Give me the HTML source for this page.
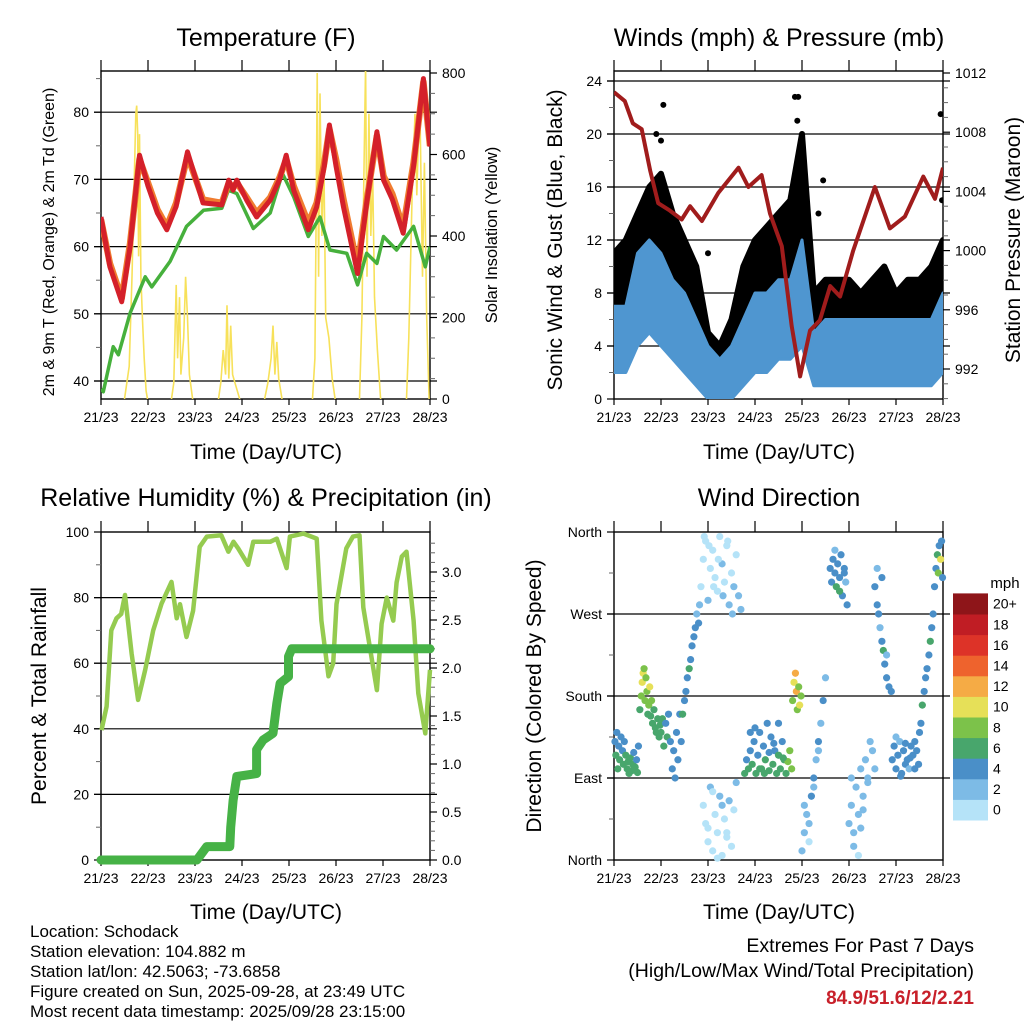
<!DOCTYPE html>
<html><head><meta charset="utf-8"><style>
html,body{margin:0;padding:0;background:#fff;}
svg{display:block;font-family:"Liberation Sans",sans-serif;}
</style></head><body>
<svg id="chart" width="1024" height="1024" viewBox="0 0 1024 1024" xmlns="http://www.w3.org/2000/svg">
<defs>
<clipPath id="c1"><rect x="101" y="71" width="329" height="328"/></clipPath>
<clipPath id="c2"><rect x="614" y="71" width="329" height="328"/></clipPath>
<clipPath id="c3"><rect x="95" y="520" width="345" height="346"/></clipPath>
<clipPath id="c4"><rect x="608" y="528" width="340" height="336"/></clipPath>
</defs>
<rect x="0" y="0" width="1024" height="1024" fill="#fff"/>
<text x="266" y="46" font-size="25" text-anchor="middle">Temperature (F)</text>
<text x="779" y="46" font-size="25" text-anchor="middle">Winds (mph) &amp; Pressure (mb)</text>
<text x="266" y="506" font-size="25" text-anchor="middle">Relative Humidity (%) &amp; Precipitation (in)</text>
<text x="779" y="506" font-size="25" text-anchor="middle">Wind Direction</text>
<text transform="translate(54,242) rotate(-90)" font-size="16" text-anchor="middle">2m &amp; 9m T (Red, Orange) &amp; 2m Td (Green)</text>
<text transform="translate(497,235) rotate(-90)" font-size="16.5" text-anchor="middle">Solar Insolation (Yellow)</text>
<text transform="translate(562,240) rotate(-90)" font-size="21" text-anchor="middle">Sonic Wind &amp; Gust (Blue, Black)</text>
<text transform="translate(1020,240) rotate(-90)" font-size="21" text-anchor="middle">Station Pressure (Maroon)</text>
<text transform="translate(46,696) rotate(-90)" font-size="21" text-anchor="middle">Percent &amp; Total Rainfall</text>
<text transform="translate(541,696) rotate(-90)" font-size="21" text-anchor="middle">Direction (Colored By Speed)</text>
<text x="266" y="459" font-size="21" text-anchor="middle">Time (Day/UTC)</text>
<text x="779" y="459" font-size="21" text-anchor="middle">Time (Day/UTC)</text>
<text x="266" y="919" font-size="21" text-anchor="middle">Time (Day/UTC)</text>
<text x="779" y="919" font-size="21" text-anchor="middle">Time (Day/UTC)</text>
<g font-size="17">
<text x="30" y="937">Location: Schodack</text>
<text x="30" y="957">Station elevation: 104.882 m</text>
<text x="30" y="977">Station lat/lon: 42.5063; -73.6858</text>
<text x="30" y="997">Figure created on Sun, 2025-09-28, at 23:49 UTC</text>
<text x="30" y="1017">Most recent data timestamp: 2025/09/28 23:15:00</text>
</g>
<text x="974" y="952" font-size="19.5" text-anchor="end">Extremes For Past 7 Days</text>
<text x="974" y="977" font-size="19.5" text-anchor="end">(High/Low/Max Wind/Total Precipitation)</text>
<text x="974" y="1004" font-size="19" font-weight="bold" fill="#c8202a" text-anchor="end">84.9/51.6/12/2.21</text>
<text x="1005" y="588" font-size="15" text-anchor="middle">mph</text>
</svg>
<script>
// ---------- DATA ----------
const dayLabels = ["21/23","22/23","23/23","24/23","25/23","26/23","27/23","28/23"];
const tempTimes = [0,0.19,0.44,0.62,0.82,1.0,1.2,1.4,1.6,1.84,2.17,2.57,2.72,2.81,2.89,3.1,3.31,3.6,3.8,3.94,4.1,4.41,4.59,4.75,4.86,5.0,5.16,5.46,5.65,5.87,6.01,6.2,6.43,6.65,6.86,7.0];
const temp2m = [64.4,57,51.8,60,73.6,69,65,62.5,66,74.1,66.5,66.2,69.9,68.4,69.9,66.9,64.4,66.9,70,73.6,68.4,62.5,65.9,72,78.1,72,65.9,56,66.4,77.1,69.9,67,62,72,85,74.9];
const temp9m = [64,57.5,52.3,60.5,73,69.5,65.5,63,66.5,73.5,67,66.5,69.5,68.8,69.5,67.3,65,67.3,70.3,73,69,63.5,66.5,72.5,77.5,73,67,57,66.8,76.5,70.5,67.8,62.8,72.5,84.5,75];
const dewTimes = [0,0.05,0.26,0.37,0.62,0.94,1.08,1.47,1.82,2.18,2.57,2.71,2.89,3.24,3.6,3.86,4.1,4.41,4.66,4.87,5.23,5.46,5.65,5.87,6.01,6.29,6.65,6.9,7.0];
const dewValues = [38.8,38.4,45.1,43.9,50.1,55.5,54,57.8,63,65.4,65.7,68.4,67.9,62.7,65,70.9,67.4,61.5,64.4,59.5,59,54.3,59,57.5,61.5,59.5,63,57,60];
const solarTimes = [[0.5,0.6,0.66,0.7,0.74,0.76,0.78,0.8,0.82,0.85,0.88,0.92,0.96,0.99],[1.5,1.55,1.6,1.63,1.67,1.7,1.76,1.8,1.84,1.88,1.95],[2.5,2.55,2.6,2.65,2.68,2.72,2.76,2.8,2.85,2.95],[3.48,3.55,3.62,3.66,3.7,3.74,3.78,3.85],[4.5,4.55,4.58,4.6,4.63,4.66,4.7,4.74,4.78,4.85,4.92,4.98],[5.5,5.55,5.6,5.63,5.66,5.7,5.74,5.78,5.82,5.88,5.95],[6.5,6.55,6.62,6.68,6.72,6.78,6.84,6.88,6.93,6.98]];
const solarValues = [[0,80,300,500,700,720,650,350,650,300,200,100,20,0],[0,40,280,100,250,60,150,300,200,60,0],[0,40,120,60,230,50,180,60,40,0],[0,40,100,180,60,140,50,0],[0,100,500,800,300,750,400,600,200,150,50,0],[0,200,600,820,300,700,400,550,250,120,0],[0,150,500,700,500,750,300,580,200,0]];
const windTimes = [0,0.25,0.5,0.75,1,1.25,1.5,1.75,2,2.25,2.5,2.75,3,3.25,3.5,3.75,4,4.25,4.5,4.75,5,5.25,5.5,5.75,6,6.25,6.5,6.75,7];
const windLow  = [2,2,4,5,4,3,2,1,0,0,0,1,2,2,3,3,4,1,1,1,1,1,1,1,1,1,1,1,2];
const windHigh = [7,7,11,12,11,9,8,6,4,3,4,6,8,8,9,9,12,5,6,6,6,6,6,6,6,6,6,6,8];
const gustLow  = [4,5,6,7,7,6,5,3,1,1,1,3,4,4,5,6,8,3,3,3,3,3,3,3,3,3,3,4,4];
const gustHigh = [11,12,14,16,17,14,12,10,5,4,6,10,12,13,14,15,20,8,9,9,9,8,9,10,8,9,9,10,12];
const gustOutT = [0.9,1.0,1.05,2.0,3.85,3.9,3.92,4.35,4.45,4.95,6.95,6.98];
const gustOutV = [20,19.5,22.2,11,22.8,21,22.8,14,16.5,6.5,21.5,15];
const presTimes = [0,0.23,0.4,0.59,0.77,0.94,1.19,1.44,1.62,1.87,2.22,2.65,2.86,3.14,3.32,3.57,3.78,3.96,4.17,4.38,4.6,4.81,5.09,5.55,5.87,6.19,6.58,6.83,7.0];
const presValues = [1010.7,1010.1,1008.6,1008.2,1005.4,1003.2,1002.7,1002.1,1003,1002,1003.9,1005.6,1004.3,1005.1,1002.5,1000.3,994.9,991.5,994.6,995.3,997.6,996.9,1000,1004.3,1001.5,1002.3,1005,1003.5,1005.6];
const rhTimes = [0.01,0.12,0.22,0.33,0.43,0.51,0.65,0.79,0.94,1.11,1.29,1.5,1.61,1.68,1.82,1.96,2.1,2.25,2.56,2.71,2.82,2.92,3.13,3.24,3.6,3.74,3.95,4.02,4.31,4.59,4.69,4.84,4.94,5.01,5.22,5.36,5.5,5.58,5.87,5.97,6.08,6.22,6.29,6.4,6.5,6.65,6.75,6.9,7.0];
const rhValues = [39.6,46.8,70,73.7,75,80.8,63,48.8,58,70,78.2,84.8,73.7,78,68,76,95.5,98.6,99,94,97,95,90,97,97,98,89,98.6,99.5,98,73,56,60,78,95,98.6,99,77,51.8,72,80,73,84.6,92.5,94,73,50.8,38.6,58];
const rainTimes = [0,2.04,2.25,2.74,2.76,2.81,2.89,3.31,3.31,3.45,3.66,3.74,3.81,3.99,3.99,4.06,7.0];
const rainValues = [0,0,0.14,0.14,0.34,0.62,0.87,0.9,1.15,1.25,1.32,1.63,1.84,1.91,2.12,2.2,2.2];
const dirTimes = [
0.02,0.04,0.06,0.08,0.1,0.12,0.15,0.18,0.2,0.22,0.25,0.28,0.3,0.32,0.35,0.38,0.4,0.42,0.45,0.48,0.5,0.52,
0.55,0.58,0.6,0.62,0.64,0.66,0.68,0.7,0.72,0.74,0.76,0.78,0.8,0.82,0.85,0.88,0.9,0.93,0.96,0.98,
1.0,1.03,1.06,1.1,1.13,1.16,1.2,1.24,1.27,1.3,1.33,1.36,1.4,1.43,
1.46,1.5,1.53,1.56,1.6,1.63,1.66,1.7,1.73,1.76,1.8,1.82,
1.85,1.9,1.95,2.0,2.05,2.1,2.15,2.2,2.25,2.3,2.35,2.4,2.45,2.5,2.55,2.6,2.65,2.7,1.92,2.02,2.12,2.22,2.32,2.42,2.52,
1.9,1.95,2.0,2.05,2.1,2.15,2.2,2.25,2.3,2.35,2.4,2.45,2.5,2.55,2.6,2.0,2.1,2.2,2.3,2.4,
2.78,2.82,2.86,2.9,2.94,2.98,3.02,3.06,3.1,3.14,3.18,3.22,3.26,3.3,3.34,3.38,3.42,3.46,3.5,3.54,3.58,3.62,3.66,3.7,3.74,3.78,2.9,3.0,3.1,3.2,3.3,3.4,3.5,3.6,
3.8,3.83,3.86,3.88,3.9,3.93,3.95,3.98,
4.0,4.05,4.1,4.15,4.2,4.25,4.3,4.35,4.4,4.45,4.5,4.05,4.15,4.25,4.35,
4.6,4.63,4.66,4.7,4.73,4.76,4.8,4.83,4.86,4.9,4.93,4.96,4.7,4.8,4.9,
5.0,5.05,5.1,5.15,5.2,5.25,5.3,5.35,5.4,5.45,5.5,5.55,5.1,5.2,5.3,5.4,5.05,5.25,
5.55,5.6,5.63,5.66,5.7,5.73,5.76,5.8,5.85,5.9,5.6,5.7,5.8,
5.92,5.96,6.0,6.04,6.08,6.12,6.16,6.2,6.24,6.28,6.32,6.36,6.4,6.44,6.48,6.0,6.1,6.2,6.3,6.4,
6.5,6.53,6.56,6.6,6.63,6.66,6.7,6.73,6.76,6.79,
6.82,6.85,6.88,6.9,6.92,6.95,6.97,6.99];
const dirValues = [
130,115,140,100,125,110,135,120,105,130,115,100,108,95,112,98,105,118,102,110,96,125,
165,180,195,205,210,175,200,185,160,170,190,158,175,150,165,145,140,155,135,148,
140,155,125,150,135,160,130,100,120,90,140,110,160,130,
160,175,185,200,210,220,235,245,255,270,260,280,
300,330,350,285,320,340,310,295,355,325,305,345,280,315,300,335,290,275,355,345,300,330,290,350,270,
60,40,20,80,10,50,30,70,5,45,25,65,15,55,85,35,75,2,60,30,
95,110,100,120,105,130,95,115,140,100,125,110,150,98,135,105,120,95,115,100,130,110,95,108,120,100,140,145,100,95,118,128,150,112,
175,195,205,185,165,190,170,180,
10,30,50,40,70,90,110,130,150,175,200,60,20,80,120,
320,305,330,315,300,325,310,335,290,320,305,280,340,295,315,
40,60,30,80,50,100,70,110,90,130,120,100,15,5,55,85,90,35,
300,280,270,255,240,230,215,200,190,185,320,310,225,
110,125,100,115,130,95,120,105,110,100,125,115,130,120,105,135,92,128,112,100,
140,150,170,185,200,210,225,240,255,270,
300,320,335,315,345,330,350,310];
const dirSpeeds = [
4,6,5,7,4,6,4,5,6,4,6,7,6,7,6,7,6,5,6,4,6,4,
7,8,10,10,9,8,9,8,7,8,11,7,8,6,7,6,6,7,6,6,
6,6,7,4,6,5,4,4,4,4,4,4,4,4,
6,5,4,4,6,4,5,4,4,3,4,3,
1,0,1,2,1,0,1,1,0,2,1,1,2,1,2,1,3,2,0,1,1,1,2,0,3,
1,0,1,2,0,1,1,2,0,1,1,3,0,1,2,1,1,0,2,1,
6,5,7,4,6,4,6,5,4,7,4,6,4,6,4,6,5,7,6,7,4,6,7,8,9,8,4,4,6,7,5,4,4,6,
9,10,12,13,9,8,10,8,
2,2,3,2,4,4,3,4,2,4,3,2,1,3,2,
4,4,5,4,6,4,5,4,4,4,3,4,2,6,4,
2,2,3,2,2,3,2,2,3,2,3,3,2,1,2,3,3,2,
4,4,4,3,4,6,4,4,4,4,3,4,3,
4,4,4,4,3,4,4,4,4,3,4,4,4,5,4,3,4,4,4,4,
4,4,6,4,4,4,4,6,4,4,
4,4,6,8,4,10,4,4];
const speedLabels = ["0","2","4","6","8","10","12","14","16","18","20+"];
const speedColors = ["#b5e3f8","#7dbbe6","#4a8fc8","#48a66c","#7cc24a","#e6e058","#f5ab45","#ee632d","#dd3328","#c01d24","#8e1519"];

// ---------- HELPERS ----------
const NS = "http://www.w3.org/2000/svg";
const svg = document.getElementById("chart");
function mk(tag, parent, a){ const e = document.createElementNS(NS, tag); for (const k in a) e.setAttribute(k, a[k]); parent.appendChild(e); return e; }
const P1 = {x0:101,x1:430,y0:71,y1:399};
const P2 = {x0:614,x1:943,y0:71,y1:399};
const P3 = {x0:101,x1:430,y0:532,y1:860};
const P4 = {x0:614,x1:943,y0:532,y1:860};
function xOf(p, t){ return p.x0 + t*(p.x1-p.x0)/7; }
const yTemp = v => 381 - (v-40)*6.72;
const ySolar = v => 399 - v*0.4075;
const yWind = v => 399 - v*13.25;
const yPres = v => 369 - (v-992)*14.8;
const yRh = v => 860 - v*3.28;
const yRain = v => 860 - v*96;
const yDir = v => 860 - v*328/360;

function frame(p, name, leftTicks, rightTicks, leftMinor, rightMinor, grid){
  const g = mk("g", svg, {});
  
  
  for (const gy of grid){
    const l = mk("line", g, {x1:p.x0-7, x2:p.x1+7, y1:gy, y2:gy, stroke:"#000", "stroke-width":1.2});
    
    
  }
  const r = mk("rect", g, {x:p.x0, y:p.y0, width:p.x1-p.x0, height:p.y1-p.y0, fill:"none", stroke:"#000", "stroke-width":1.4});
  
  
  for (let d=0; d<8; d++){
    const x = xOf(p, d);
    const t1 = mk("line", g, {x1:x, x2:x, y1:p.y0-11, y2:p.y0, stroke:"#000", "stroke-width":1.2});
    
    
    const t2 = mk("line", g, {x1:x, x2:x, y1:p.y1, y2:p.y1+6, stroke:"#000", "stroke-width":1.2});
    
    
    const lb = mk("text", g, {x:x, y:p.y1+23, "font-size":14, "text-anchor":"middle"});
    lb.textContent = dayLabels[d];
    
    
  }
  for (const [y, txt] of leftTicks){
    const t = mk("line", g, {x1:p.x0-7, x2:p.x0, y1:y, y2:y, stroke:"#000", "stroke-width":1.2});
    
    
    const lb = mk("text", g, {x:p.x0-12, y:y+5, "font-size":14, "text-anchor":"end"});
    lb.textContent = txt;
    
    
  }
  for (const y of leftMinor){
    const t = mk("line", g, {x1:p.x0-5, x2:p.x0, y1:y, y2:y, stroke:"#666", "stroke-width":1});
    
    
  }
  for (const [y, txt] of rightTicks){
    const t = mk("line", g, {x1:p.x1, x2:p.x1+7, y1:y, y2:y, stroke:"#000", "stroke-width":1.2});
    
    
    const lb = mk("text", g, {x:p.x1+12, y:y+5, "font-size":14, "text-anchor":"start"});
    lb.textContent = txt;
    
    
  }
  for (const y of rightMinor){
    const t = mk("line", g, {x1:p.x1, x2:p.x1+5, y1:y, y2:y, stroke:"#666", "stroke-width":1});
    
    
  }
}
function path(xs, ys){ let s=""; for (let i=0;i<xs.length;i++) s += (i?"L":"M") + xs[i].toFixed(1) + "," + ys[i].toFixed(1); return s; }

// ---------- PANEL 1: Temperature ----------
{
  const lt=[], lm=[], rt=[], rm=[], gr=[];
  for (let v=40; v<=80; v+=10){ lt.push([yTemp(v), String(v)]); gr.push(yTemp(v)); }
  for (let v=40; v<=85; v+=5) if (v%10) lm.push(yTemp(v));
  for (let v=0; v<=800; v+=200) rt.push([ySolar(v), String(v)]);
  for (let v=50; v<=800; v+=50) if (v%200) rm.push(ySolar(v));
  frame(P1, "temperature", lt, rt, lm, rm, gr);
  const g = mk("g", svg, {"clip-path":"url(#c1)"});
  
  
  for (let d=0; d<solarTimes.length; d++){
    const s = mk("path", g, {d:path(solarTimes[d].map(t=>xOf(P1,t)), solarValues[d].map(ySolar)), fill:"none", stroke:"#f7e15a", "stroke-width":1.6});
    
    
  }
  const dw = mk("path", g, {d:path(dewTimes.map(t=>xOf(P1,t)), dewValues.map(yTemp)), fill:"none", stroke:"#46b03c", "stroke-width":3.5, "stroke-linejoin":"round"});
  
  
  const o = mk("path", g, {d:path(tempTimes.map(t=>xOf(P1,t)), temp9m.map(yTemp)), fill:"none", stroke:"#f07c30", "stroke-width":6.5, "stroke-linejoin":"round"});
  
  
  const r = mk("path", g, {d:path(tempTimes.map(t=>xOf(P1,t)), temp2m.map(yTemp)), fill:"none", stroke:"#d4202a", "stroke-width":5, "stroke-linejoin":"round"});
  
  
}

// ---------- PANEL 2: Winds ----------
{
  const lt=[], lm=[], rt=[], rm=[], gr=[];
  for (let v=0; v<=24; v+=4){ lt.push([yWind(v), String(v)]); if (v) gr.push(yWind(v)); }
  for (let v=2; v<=24; v+=4) lm.push(yWind(v));
  for (let v=992; v<=1012; v+=4) rt.push([yPres(v), String(v)]);
  for (let v=990; v<=1012; v+=1) if ((v-992)%4) rm.push(yPres(v));
  frame(P2, "winds", lt, rt, lm, rm, gr);
  const g = mk("g", svg, {"clip-path":"url(#c2)"});
  
  
  const xs = windTimes.map(t=>xOf(P2,t));
  const gp = path(xs, gustHigh.map(yWind)) + path(xs.slice().reverse(), gustLow.slice().reverse().map(yWind)).replace("M","L") + "Z";
  const gb = mk("path", g, {d:gp, fill:"#000", stroke:"#000", "stroke-width":6, "stroke-linejoin":"round"});
  
  
  for (let i=0;i<gustOutT.length;i++){
    const c = mk("circle", g, {cx:xOf(P2,gustOutT[i]), cy:yWind(gustOutV[i]), r:3, fill:"#000"});
    
    
  }
  const wp = path(xs, windHigh.map(yWind)) + path(xs.slice().reverse(), windLow.slice().reverse().map(yWind)).replace("M","L") + "Z";
  const wb = mk("path", g, {d:wp, fill:"#4f96d0", stroke:"#4f96d0", "stroke-width":3, "stroke-linejoin":"round"});
  
  
  const pl = mk("path", g, {d:path(presTimes.map(t=>xOf(P2,t)), presValues.map(yPres)), fill:"none", stroke:"#a01c1c", "stroke-width":4, "stroke-linejoin":"round"});
  
  
}

// ---------- PANEL 3: Humidity ----------
{
  const lt=[], lm=[], rt=[], rm=[], gr=[];
  for (let v=0; v<=100; v+=20){ lt.push([yRh(v), String(v)]); if (v && v<100) gr.push(yRh(v)); }
  for (let v=10; v<=100; v+=20) lm.push(yRh(v));
  for (let v=0; v<=3.0001; v+=0.5) rt.push([yRain(v), v.toFixed(1)]);
  for (let v=0.1; v<=3.4; v+=0.1){ const r=Math.round(v*10); if (r%5) rm.push(yRain(r/10)); }
  frame(P3, "humidity", lt, rt, lm, rm, gr);
  const g = mk("g", svg, {"clip-path":"url(#c3)"});
  
  
  const rh = mk("path", g, {d:path(rhTimes.map(t=>xOf(P3,t)), rhValues.map(yRh)), fill:"none", stroke:"#95cb50", "stroke-width":4.5, "stroke-linejoin":"round"});
  
  
  const rn = mk("path", g, {d:path(rainTimes.map(t=>xOf(P3,t)), rainValues.map(yRain)), fill:"none", stroke:"#46b246", "stroke-width":9, "stroke-linejoin":"round", "stroke-linecap":"round"});
  
  
}

// ---------- PANEL 4: Wind direction ----------
{
  const lt = [[yDir(0),"North"],[yDir(90),"East"],[yDir(180),"South"],[yDir(270),"West"],[yDir(360),"North"]];
  const lm=[]; for (let v=45; v<360; v+=90) lm.push(yDir(v));
  frame(P4, "direction", lt, [], lm, [], [yDir(90),yDir(180),yDir(270)]);
  const g = mk("g", svg, {"clip-path":"url(#c4)"});
  
  
  for (let i=0;i<dirTimes.length;i++){
    const ci = Math.min(10, Math.floor(dirSpeeds[i]/2));
    const c = mk("circle", g, {cx:xOf(P4,dirTimes[i]), cy:yDir(dirValues[i]), r:3.6, fill:speedColors[ci]});
    
    
  }
  const cb = mk("g", svg, {});
  
  
  const h = 20.6;
  for (let k=0;k<speedLabels.length;k++){
    const y = 820 - (k+1)*h;
    const b = mk("rect", cb, {x:953, y:y, width:35, height:h+0.5, fill:speedColors[k]});
    
    
    const t = mk("text", cb, {x:993, y:y+h/2+5, "font-size":14});
    t.textContent = speedLabels[k];
    
    
  }
}
</script>
</body></html>
